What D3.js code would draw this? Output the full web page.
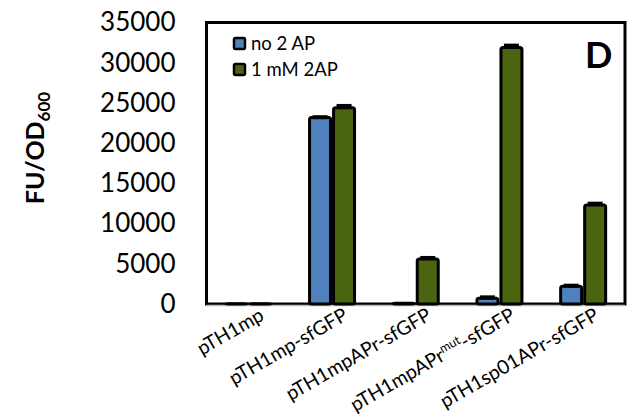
<!DOCTYPE html>
<html><head><meta charset="utf-8">
<script src="https://cdn.jsdelivr.net/npm/d3@7"></script>
<style>body{margin:0;background:#fff}svg{display:block}text{font-family:Lato,"Open Sans",sans-serif}</style>
</head><body><svg id="c" width="631" height="418"></svg>
<script>
const categories = ["pTH1mp","pTH1mp-sfGFP","pTH1mpAPr-sfGFP","pTH1mpAPrmut-sfGFP","pTH1sp01APr-sfGFP"];
const seriesNames = ["no 2 AP","1 mM 2AP"];
const noAP = [40, 23200, 100, 700, 2200];
const withAP = [40, 24400, 5600, 31900, 12300];
const noAPErr = [0, 150, 0, 250, 200];
const withAPErr = [0, 350, 250, 350, 300];
const yTicks = [0,5000,10000,15000,20000,25000,30000,35000];
const colors = ["#4F81BD","#4A6410"];

const svg = d3.select("#c");
const L=206.5, R=625, T=22.5, B=304;
const x = d3.scaleBand().domain(categories).range([L,R]).padding(0);
const y = d3.scaleLinear().domain([0,35000]).range([B,T]);
const bw = 21;

// y axis labels
const yAxis = d3.axisLeft(y).tickValues(yTicks).tickSize(0).tickPadding(31).tickFormat(d3.format("d"));
const ga = svg.append("g").attr("transform",`translate(${L},0)`).call(yAxis);
ga.select(".domain").remove();
ga.selectAll("text").attr("font-size",26).attr("fill","#000").style("font-family","Lato");

// frame
svg.append("rect").attr("x",L).attr("y",T).attr("width",R-L).attr("height",B-T)
  .attr("fill","none").attr("stroke","#000").attr("stroke-width",3);
svg.append("line").attr("x1",L).attr("x2",R).attr("y1",B+1.5).attr("y2",B+1.5).attr("stroke","#bbb").attr("stroke-width",1.5);

const series = [noAP, withAP];
const errs = [noAPErr, withAPErr];
series.forEach((vals,si)=>{
  const off = si===0 ? -bw-1.5 : 1.5;
  const g = svg.append("g");
  g.selectAll("rect").data(vals).join("rect")
    .attr("x",(d,i)=>x(categories[i])+x.bandwidth()/2+off)
    .attr("y",d=>y(d))
    .attr("width",bw)
    .attr("height",d=>B-y(d))
    .attr("rx",2)
    .attr("fill",colors[si]).attr("stroke","#000").attr("stroke-width",3);
  g.selectAll("line.err").data(vals).join("line").attr("class","err")
    .attr("x1",(d,i)=>x(categories[i])+x.bandwidth()/2+off+3)
    .attr("x2",(d,i)=>x(categories[i])+x.bandwidth()/2+off+bw-3)
    .attr("y1",(d,i)=>y(d+errs[si][i])+1)
    .attr("y2",(d,i)=>y(d+errs[si][i])+1)
    .attr("stroke","#000").attr("stroke-width",(d,i)=>errs[si][i]>0?4:0);
});

// x labels
categories.forEach((c,i)=>{
  const cx = x(c)+x.bandwidth()/2+17, cy = B+15;
  const t = svg.append("text").attr("transform",`translate(${cx},${cy}) rotate(-30)`)
    .attr("text-anchor","end").attr("font-size",19.5).attr("fill","#000");
  if(c.includes("mut")){
    const [a,b] = c.split("mut");
    t.append("tspan").text(a);
    t.append("tspan").text("mut").attr("font-size",12.5).attr("dy",-7);
    t.append("tspan").text(b).attr("dy",7);
  } else t.text(c);
});

// legend
seriesNames.forEach((n,i)=>{
  const ly = 38+i*26;
  svg.append("rect").attr("x",234).attr("y",ly).attr("width",11).attr("height",11)
    .attr("fill",colors[i]).attr("stroke","#000").attr("stroke-width",2.5).attr("rx",1.5);
  svg.append("text").attr("x",251).attr("y",ly+11.5).attr("font-size",18.5).attr("fill","#000").text(n);
});

// panel letter
svg.append("text").attr("x",585).attr("y",68).attr("font-size",36).attr("font-weight","bold").attr("fill","#000").text("D");

// y title
const yt = svg.append("text").attr("transform","translate(44,148) rotate(-90)").attr("text-anchor","middle")
  .attr("font-size",25).attr("font-weight","bold").attr("fill","#000");
yt.append("tspan").text("FU/OD");
yt.append("tspan").text("600").attr("font-size",17).attr("dy",6);
</script></body></html>
